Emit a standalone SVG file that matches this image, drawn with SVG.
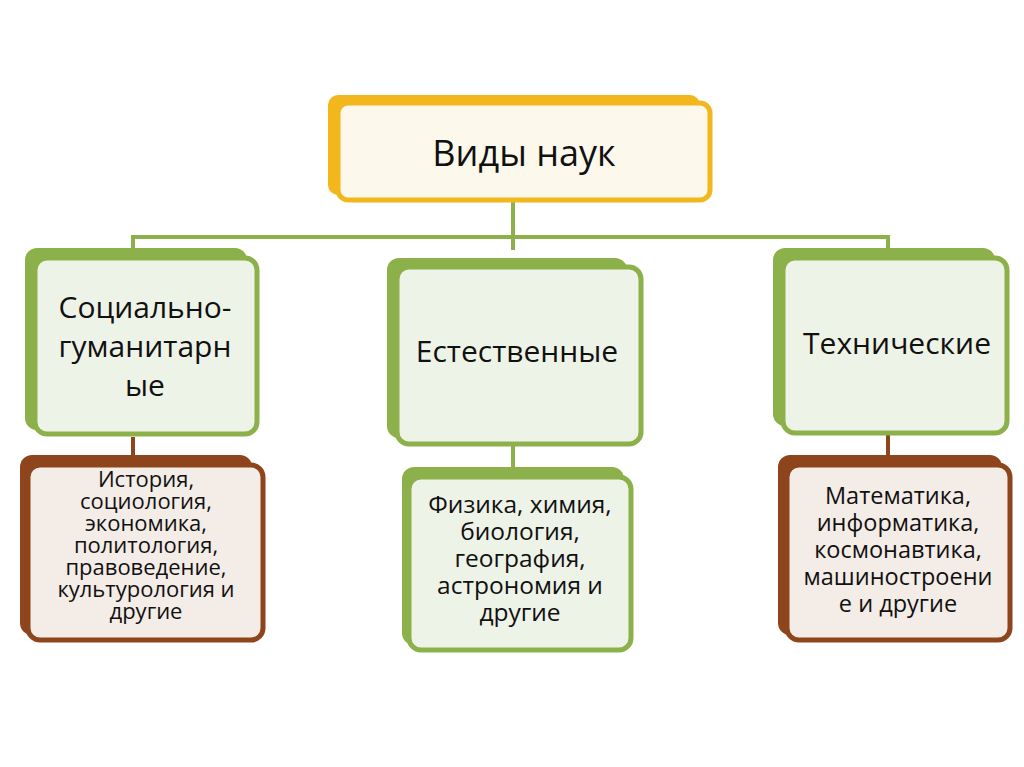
<svg xmlns="http://www.w3.org/2000/svg" width="1024" height="767" viewBox="0 0 1024 767">
<style>
text{font-family:"Open Sans","Noto Sans","Liberation Sans",sans-serif;fill:#111;text-anchor:middle}
.big{font-size:36px}
.mid{font-size:30px}
.s1{font-size:22px}
.s2{font-size:24.5px}
.s3{font-size:23.5px}
.ys{fill:#f3b71e}
.yf{fill:#fdf8ec;stroke:#f3b71e;stroke-width:5}
.gs{fill:#8cb04a}
.gf{fill:#eef3e8;stroke:#8cb04a;stroke-width:5}
.bs{fill:#8e451b}
.bf{fill:#f4ece7;stroke:#8e451b;stroke-width:5}
.cg{stroke:#8cb04a;stroke-width:4;fill:none}
.cb{stroke:#8e451b;stroke-width:4;fill:none}
</style>
<rect width="1024" height="767" fill="#fff"/>
<g id="connectors">
<path class="cg" d="M513 202V250M133 237H888M133 235V250M888 235V250M513 445V467"/>
<path class="cb" d="M133 437V456M888 433V456"/>
</g>
<g id="root">
<rect class="ys" x="328" y="95" width="372" height="100" rx="10"/>
<rect class="yf" x="338" y="103" width="372" height="97" rx="10"/>
<text class="big" x="524" y="166">Виды наук</text>
</g>
<g id="social">
<rect class="gs" x="25" y="248" width="222" height="182" rx="12"/>
<rect class="gf" x="35" y="258" width="222" height="176" rx="12"/>
<text class="mid" x="145" y="318">Социально-</text>
<text class="mid" x="145" y="357">гуманитарн</text>
<text class="mid" x="145" y="396">ые</text>
</g>
<g id="natural">
<rect class="gs" x="387" y="258" width="240" height="180" rx="12"/>
<rect class="gf" x="397" y="267" width="244" height="177" rx="12"/>
<text class="mid" x="517" y="362">Естественные</text>
</g>
<g id="tech">
<rect class="gs" x="773" y="248" width="222" height="178" rx="12"/>
<rect class="gf" x="783" y="258" width="224" height="175" rx="12"/>
<text class="mid" x="897" y="354">Технические</text>
</g>
<g id="social-list">
<rect class="bs" x="20" y="455" width="232" height="180" rx="12"/>
<rect class="bf" x="28" y="465" width="235" height="175" rx="12"/>
<text class="s1" x="146" y="487">История,</text>
<text class="s1" x="146" y="509">социология,</text>
<text class="s1" x="146" y="531">экономика,</text>
<text class="s1" x="146" y="553">политология,</text>
<text class="s1" x="146" y="575">правоведение,</text>
<text class="s1" x="146" y="597">культурология и</text>
<text class="s1" x="146" y="619">другие</text>
</g>
<g id="natural-list">
<rect class="gs" x="402" y="467" width="222" height="178" rx="12"/>
<rect class="gf" x="409" y="477" width="222" height="173" rx="12"/>
<text class="s2" x="520" y="513">Физика, химия,</text>
<text class="s2" x="520" y="540">биология,</text>
<text class="s2" x="520" y="567">география,</text>
<text class="s2" x="520" y="594">астрономия и</text>
<text class="s2" x="520" y="621">другие</text>
</g>
<g id="tech-list">
<rect class="bs" x="778" y="455" width="224" height="180" rx="12"/>
<rect class="bf" x="787" y="465" width="223" height="175" rx="12"/>
<text class="s3" x="898" y="504">Математика,</text>
<text class="s3" x="898" y="531">информатика,</text>
<text class="s3" x="898" y="558">космонавтика,</text>
<text class="s3" x="898" y="585">машиностроени</text>
<text class="s3" x="898" y="612">е и другие</text>
</g>
</svg>
